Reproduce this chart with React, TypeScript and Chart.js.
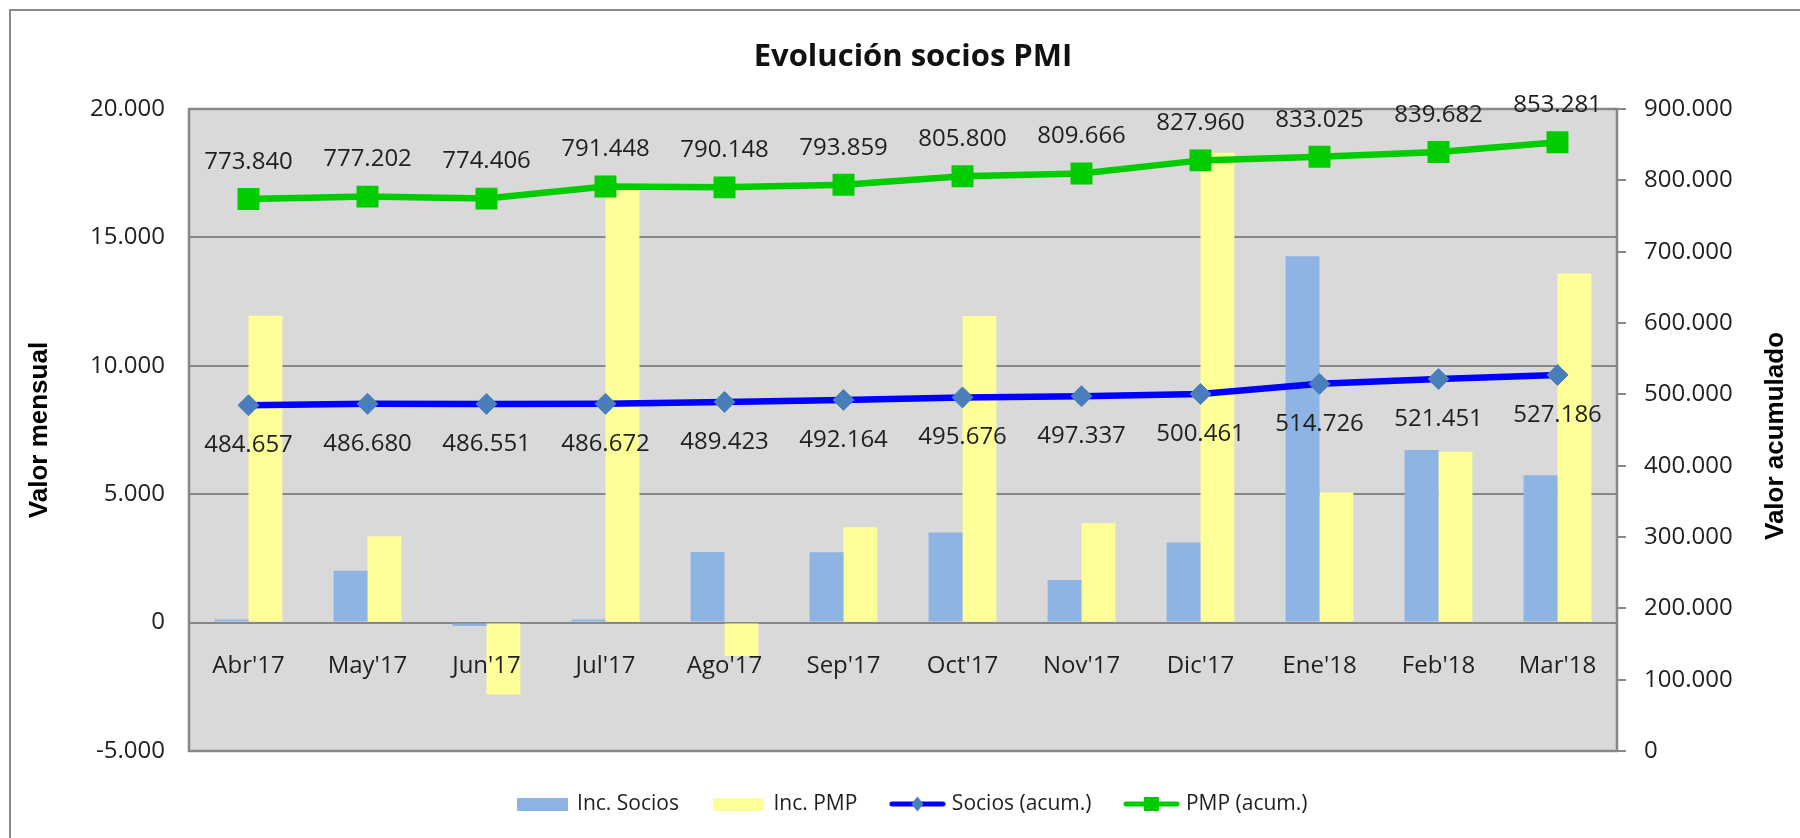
import React, { useEffect, useRef } from "react";
import { Chart, registerables } from "chart.js";

Chart.register(...registerables);

const categories = ["Abr'17", "May'17", "Jun'17", "Jul'17", "Ago'17", "Sep'17", "Oct'17", "Nov'17", "Dic'17", "Ene'18", "Feb'18", "Mar'18"];
const incSocios = [120, 2023, -129, 121, 2751, 2741, 3512, 1661, 3124, 14265, 6725, 5735];
const incPMP = [11950, 3362, -2796, 17042, -1300, 3711, 11941, 3866, 18294, 5065, 6657, 13599];
const sociosAcum = [484657, 486680, 486551, 486672, 489423, 492164, 495676, 497337, 500461, 514726, 521451, 527186];
const pmpAcum = [773840, 777202, 774406, 791448, 790148, 793859, 805800, 809666, 827960, 833025, 839682, 853281];

const seriesNames = ["Inc. Socios", "Inc. PMP", "Socios (acum.)", "PMP (acum.)"];
const titleText = "Evolución socios PMI";
const leftTitle = "Valor mensual";
const rightTitle = "Valor acumulado";

const COL_BLUE_BAR = "#8EB4E3";
const COL_YELLOW_BAR = "#FFFF99";
const COL_BLUE_LINE = "#0000FF";
const COL_DIAMOND = "#4A7EBB";
const COL_GREEN = "#00CC00";
const COL_GRID = "#878787";
const COL_TEXT = "#1f1f1f";
const COL_PLOT = "#D9D9D9";

const FONT = "'Open Sans', 'Noto Sans', sans-serif";
const BOLD_FONT = "'Liberation Sans', Arial, sans-serif";

function fmt(v: number): string {
  const s = Math.round(Math.abs(v)).toString().replace(/\B(?=(\d{3})+(?!\d))/g, ".");
  return (v < 0 ? "-" : "") + s;
}

function makeBox(color: string, w: number, h: number) {
  const c = document.createElement("canvas");
  c.width = w;
  c.height = h;
  const g = c.getContext("2d")!;
  g.fillStyle = color;
  g.fillRect(0, 0, w, h);
  return c;
}

function makeLineMarker(lineColor: string, markerColor: string, kind: "diamond" | "square") {
  const w = 57, h = 16;
  const c = document.createElement("canvas");
  c.width = w;
  c.height = h;
  const g = c.getContext("2d")!;
  g.strokeStyle = lineColor;
  g.lineWidth = 5;
  g.lineCap = "round";
  g.beginPath();
  g.moveTo(3, h / 2);
  g.lineTo(w - 3, h / 2);
  g.stroke();
  g.fillStyle = markerColor;
  if (kind === "diamond") {
    g.beginPath();
    g.moveTo(w / 2, h / 2 - 7.5);
    g.lineTo(w / 2 + 6, h / 2);
    g.lineTo(w / 2, h / 2 + 7.5);
    g.lineTo(w / 2 - 6, h / 2);
    g.closePath();
    g.fill();
  } else {
    g.fillRect(w / 2 - 7.5, h / 2 - 7, 15, 14);
  }
  return c;
}

const plotBackground = {
  id: "plotBackground",
  beforeDraw(chart: any) {
    const { ctx, chartArea: a } = chart;
    ctx.save();
    ctx.fillStyle = COL_PLOT;
    ctx.fillRect(a.left, a.top, a.right - a.left, a.bottom - a.top);
    ctx.restore();
  },
  beforeDatasetsDraw(chart: any) {
    const { ctx, chartArea: a } = chart;
    ctx.save();
    ctx.strokeStyle = COL_GRID;
    ctx.lineWidth = 2.5;
    ctx.strokeRect(a.left, a.top, a.right - a.left, a.bottom - a.top);
    ctx.restore();
  },
};

const valueLabels = {
  id: "valueLabels",
  afterDatasetsDraw(chart: any) {
    const ctx = chart.ctx;
    ctx.save();
    ctx.font = `24px ${FONT}`;
    ctx.fillStyle = COL_TEXT;
    ctx.textAlign = "center";
    ctx.textBaseline = "middle";
    const specs: [number, number][] = [
      [2, 40],
      [3, -37],
    ];
    specs.forEach(([di, off]) => {
      const meta = chart.getDatasetMeta(di);
      const data = chart.data.datasets[di].data as number[];
      meta.data.forEach((pt: any, i: number) => {
        ctx.fillText(fmt(data[i]), pt.x, pt.y + off);
      });
    });
    ctx.restore();
  },
};

const rightAxisTitle = {
  id: "rightAxisTitle",
  afterDraw(chart: any) {
    const ctx = chart.ctx;
    ctx.save();
    ctx.translate(1776, 436);
    ctx.rotate(-Math.PI / 2);
    ctx.font = `bold 26px ${BOLD_FONT}`;
    ctx.fillStyle = "#000";
    ctx.textAlign = "center";
    ctx.textBaseline = "middle";
    ctx.fillText(rightTitle, 0, 0);
    ctx.restore();
  },
};

export default function App() {
  const ref = useRef<HTMLCanvasElement | null>(null);

  useEffect(() => {
    if (!ref.current) return;
    const legendImages = [
      makeBox(COL_BLUE_BAR, 51, 13),
      makeBox(COL_YELLOW_BAR, 51, 13),
      makeLineMarker(COL_BLUE_LINE, COL_DIAMOND, "diamond"),
      makeLineMarker(COL_GREEN, COL_GREEN, "square"),
    ];
    const defaultGen = (Chart as any).defaults.plugins.legend.labels.generateLabels;

    const chart = new Chart(ref.current, {
      type: "bar",
      data: {
        labels: categories,
        datasets: [
          {
            type: "bar",
            label: seriesNames[0],
            data: incSocios,
            backgroundColor: COL_BLUE_BAR,
            borderWidth: 0,
            yAxisID: "y",
            categoryPercentage: 0.57,
            barPercentage: 1,
            order: 2,
          },
          {
            type: "bar",
            label: seriesNames[1],
            data: incPMP,
            backgroundColor: COL_YELLOW_BAR,
            borderWidth: 0,
            yAxisID: "y",
            categoryPercentage: 0.57,
            barPercentage: 1,
            order: 3,
          },
          {
            type: "line",
            label: seriesNames[2],
            data: sociosAcum,
            borderColor: COL_BLUE_LINE,
            backgroundColor: COL_DIAMOND,
            borderWidth: 6.5,
            tension: 0,
            pointStyle: "rectRot",
            pointRadius: 10.5,
            pointBackgroundColor: COL_DIAMOND,
            pointBorderColor: COL_DIAMOND,
            pointBorderWidth: 1,
            yAxisID: "y1",
            order: 1,
          },
          {
            type: "line",
            label: seriesNames[3],
            data: pmpAcum,
            borderColor: COL_GREEN,
            backgroundColor: COL_GREEN,
            borderWidth: 6.5,
            tension: 0,
            pointStyle: "rect",
            pointRadius: 15.5,
            pointBackgroundColor: COL_GREEN,
            pointBorderColor: COL_GREEN,
            pointBorderWidth: 0,
            yAxisID: "y1",
            order: 0,
          },
        ] as any,
      },
      options: {
        responsive: false,
        animation: false,
        devicePixelRatio: 1,
        layout: { padding: { left: 0, right: 0, top: 0, bottom: 13.5 } },
        plugins: {
          tooltip: { enabled: false },
          title: {
            display: true,
            text: titleText,
            color: "#111",
            font: { family: FONT, size: 31, weight: "bold", lineHeight: 1.2 },
            padding: { top: 38.4, bottom: 33.4 },
          },
          legend: {
            display: true,
            position: "bottom",
            title: { display: true, text: " ", font: { size: 1, lineHeight: 1 }, padding: { top: 5.5, bottom: 0 } },
            labels: {
              usePointStyle: true,
              pointStyleWidth: 48,
              padding: 36,
              color: COL_TEXT,
              font: { family: FONT, size: 21 },
              sort: (a: any, b: any) => a.datasetIndex - b.datasetIndex,
              generateLabels: (ch: any) => {
                const items = defaultGen(ch);
                items.forEach((it: any) => {
                  it.pointStyle = legendImages[it.datasetIndex];
                  it.lineWidth = 0;
                });
                return items;
              },
            },
          },
        },
        scales: {
          x: {
            type: "category",
            position: { y: 0 } as any,
            offset: true,
            grid: { display: false },
            border: { display: false },
            ticks: {
              color: COL_TEXT,
              font: { family: FONT, size: 24 },
              padding: 21,
              maxRotation: 0,
              minRotation: 0,
              autoSkip: false,
              z: 1,
            },
            afterFit: (s: any) => {
              s.height = 0;
            },
          },
          y: {
            type: "linear",
            position: "left",
            min: -5000,
            max: 20000,
            grid: { color: COL_GRID, lineWidth: 2, drawTicks: false },
            border: { display: false },
            ticks: {
              stepSize: 5000,
              color: COL_TEXT,
              font: { family: FONT, size: 24 },
              padding: 24,
              callback: (v: any) => fmt(Number(v)),
            },
            title: {
              display: true,
              text: leftTitle,
              color: "#000",
              font: { family: BOLD_FONT, size: 26, weight: "bold", lineHeight: 1.2 },
              padding: { top: 24, bottom: 0 },
            },
            afterFit: (s: any) => {
              s.width = 189;
            },
          },
          y1: {
            type: "linear",
            position: "right",
            min: 0,
            max: 900000,
            grid: { color: COL_GRID, lineWidth: 2, drawOnChartArea: false, drawTicks: true, tickLength: 9 },
            border: { display: false },
            ticks: {
              stepSize: 100000,
              color: COL_TEXT,
              font: { family: FONT, size: 24 },
              padding: 18,
              callback: (v: any) => fmt(Number(v)),
            },
            afterFit: (s: any) => {
              s.width = 209;
            },
          },
        },
      } as any,
      plugins: [plotBackground, valueLabels, rightAxisTitle],
    });
    return () => chart.destroy();
  }, []);

  return (
    <div
      style={{
        position: "fixed",
        left: 0,
        top: 0,
        width: 1800,
        height: 838,
        overflow: "hidden",
        background: "#fff",
      }}
    >
      <div
        style={{
          position: "absolute",
          left: 9,
          top: 9,
          width: 3000,
          height: 3000,
          border: "2px solid #8a8a8a",
          boxSizing: "border-box",
        }}
      />
      <canvas
        ref={ref}
        width={1826}
        height={838}
        style={{ position: "absolute", left: 0, top: 0, width: 1826, height: 838, display: "block" }}
      />
    </div>
  );
}
